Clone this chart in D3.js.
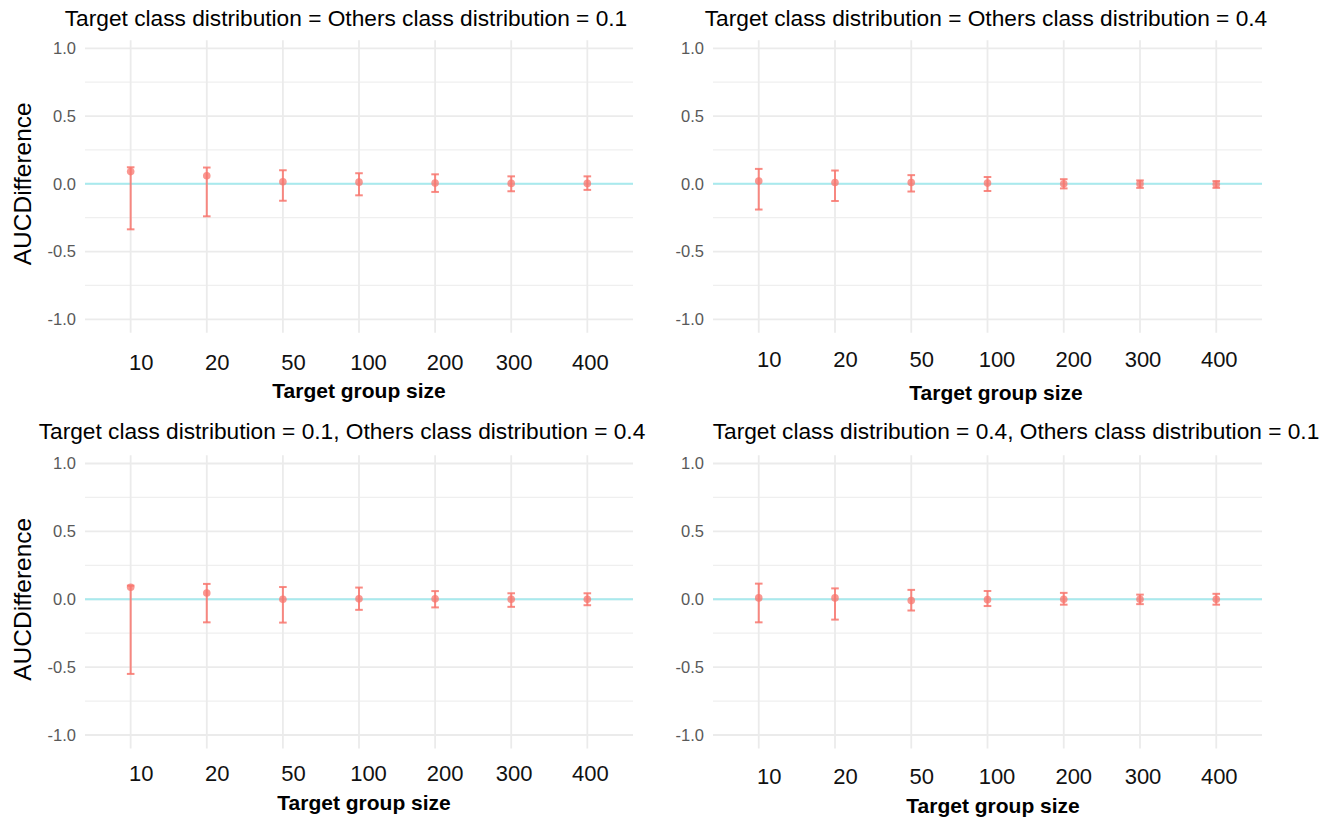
<!DOCTYPE html>
<html>
<head>
<meta charset="utf-8">
<script src="https://cdn.jsdelivr.net/npm/d3@7"></script>
<style>
  body { margin: 0; background: #fff; }
  text { font-family: "Liberation Sans", Arial, Helvetica, sans-serif; }
</style>
</head>
<body>
<div id="chart"></div>
<script>
// categories on the x axis
var sizes = ['10', '20', '50', '100', '200', '300', '400'];
var yTicks = [-1, -0.5, 0, 0.5, 1];
var yMinor = [-0.75, -0.25, 0.25, 0.75];

// panel titles
var titles = [
	'Target class distribution = Others class distribution = 0.1',
	'Target class distribution = Others class distribution = 0.4',
	'Target class distribution = 0.1, Others class distribution = 0.4',
	'Target class distribution = 0.4, Others class distribution = 0.1'
];

// mean AUC difference and error bar ends, one array per panel
var mean_tl = [0.09, 0.059, 0.015, 0.012, 0.005, 0.003, 0.003];
var low_tl = [-0.336, -0.24, -0.125, -0.085, -0.06, -0.055, -0.045];
var high_tl = [0.122, 0.12, 0.10, 0.078, 0.07, 0.055, 0.055];

var mean_tr = [0.02, 0.01, 0.01, 0.005, 0.0, 0.0, -0.003];
var low_tr = [-0.19, -0.127, -0.057, -0.053, -0.034, -0.03, -0.03];
var high_tr = [0.11, 0.098, 0.064, 0.05, 0.034, 0.025, 0.02];

var mean_bl = [0.088, 0.046, 0.0, 0.003, 0.003, 0.0, 0.0];
var low_bl = [-0.55, -0.17, -0.172, -0.078, -0.06, -0.056, -0.044];
var high_bl = [0.1, 0.113, 0.09, 0.086, 0.06, 0.044, 0.044];

var mean_br = [0.01, 0.01, -0.01, -0.003, 0.0, 0.0, 0.0];
var low_br = [-0.17, -0.15, -0.083, -0.05, -0.04, -0.036, -0.04];
var high_br = [0.115, 0.08, 0.069, 0.061, 0.047, 0.034, 0.04];

var series = [
	{ mean: mean_tl, low: low_tl, high: high_tl },
	{ mean: mean_tr, low: low_tr, high: high_tr },
	{ mean: mean_bl, low: low_bl, high: high_bl },
	{ mean: mean_br, low: low_br, high: high_br }
];

// layout of each panel (pasted plots, so each one sits a little differently)
var panels = [
	{ x0: 85, x1: 633, yTop: 48.3, yBot: 319.3, titleX: 346, titleY: 18, tickY: 362, xTitleX: 359, xTitleY: 390, yLab: 76, yTitle: true },
	{ x0: 713, x1: 1262, yTop: 48.3, yBot: 319.3, titleX: 986, titleY: 18, tickY: 359, xTitleX: 996, xTitleY: 392, yLab: 704, yTitle: false },
	{ x0: 85, x1: 633, yTop: 463.5, yBot: 735, titleX: 342, titleY: 431, tickY: 773, xTitleX: 364, xTitleY: 802, yLab: 76, yTitle: true },
	{ x0: 713, x1: 1262, yTop: 463.5, yBot: 735, titleX: 1016, titleY: 431, tickY: 776, xTitleX: 993, xTitleY: 805, yLab: 704, yTitle: false }
];
var labelNudge = [10.5, 10.5, 10.5, 9.5, 10, 3, 3];

var red = '#F8766D';

var svg = d3.select('#chart')
	.append('svg')
	.attr('width', 1332)
	.attr('height', 819);

panels.forEach(function (p, i) {
	var d = series[i];
	var g = svg.append('g');

	var x_scale = d3.scalePoint()
		.domain(sizes)
		.range([p.x0, p.x1])
		.padding(0.6);
	var y_scale = d3.scaleLinear()
		.domain([-1, 1])
		.range([p.yBot, p.yTop]);

	// minor + major horizontal grid
	g.selectAll('.minor')
		.data(yMinor)
		.enter()
		.append('line')
		.attr('x1', p.x0).attr('x2', p.x1)
		.attr('y1', function (v) { return y_scale(v); })
		.attr('y2', function (v) { return y_scale(v); })
		.attr('stroke', '#efefef')
		.attr('stroke-width', 1.2);
	g.selectAll('.major')
		.data(yTicks)
		.enter()
		.append('line')
		.attr('x1', p.x0).attr('x2', p.x1)
		.attr('y1', function (v) { return y_scale(v); })
		.attr('y2', function (v) { return y_scale(v); })
		.attr('stroke', '#ebebeb')
		.attr('stroke-width', 1.8);
	// vertical grid
	g.selectAll('.vgrid')
		.data(sizes)
		.enter()
		.append('line')
		.attr('x1', function (s) { return x_scale(s); })
		.attr('x2', function (s) { return x_scale(s); })
		.attr('y1', y_scale(1.06))
		.attr('y2', y_scale(-1.1))
		.attr('stroke', '#ebebeb')
		.attr('stroke-width', 1.8);

	// zero reference line
	g.append('line')
		.attr('x1', p.x0).attr('x2', p.x1)
		.attr('y1', y_scale(0)).attr('y2', y_scale(0))
		.attr('stroke', '#a8eaee')
		.attr('stroke-width', 2);

	// y tick labels
	g.selectAll('.ylab')
		.data(yTicks)
		.enter()
		.append('text')
		.attr('x', p.yLab)
		.attr('y', function (v) { return y_scale(v); })
		.attr('dy', '0.36em')
		.attr('text-anchor', 'end')
		.attr('font-size', 16.5)
		.attr('fill', '#595959')
		.text(function (v) { return v.toFixed(1); });

	// x tick labels
	g.selectAll('.xlab')
		.data(sizes)
		.enter()
		.append('text')
		.attr('x', function (s, j) { return x_scale(s) + labelNudge[j]; })
		.attr('y', p.tickY)
		.attr('dy', '0.36em')
		.attr('text-anchor', 'middle')
		.attr('font-size', 22)
		.attr('fill', '#111')
		.text(function (s) { return s; });

	// error bars
	var bars = g.selectAll('.bar')
		.data(sizes)
		.enter()
		.append('g')
		.attr('stroke', red)
		.attr('stroke-opacity', 0.85)
		.attr('stroke-width', 2);
	bars.append('line')
		.attr('x1', function (s) { return x_scale(s); })
		.attr('x2', function (s) { return x_scale(s); })
		.attr('y1', function (s, j) { return y_scale(d.low[j]); })
		.attr('y2', function (s, j) { return y_scale(d.high[j]); });
	bars.append('line')
		.attr('x1', function (s) { return x_scale(s) - 3.8; })
		.attr('x2', function (s) { return x_scale(s) + 3.8; })
		.attr('y1', function (s, j) { return y_scale(d.low[j]); })
		.attr('y2', function (s, j) { return y_scale(d.low[j]); });
	bars.append('line')
		.attr('x1', function (s) { return x_scale(s) - 3.8; })
		.attr('x2', function (s) { return x_scale(s) + 3.8; })
		.attr('y1', function (s, j) { return y_scale(d.high[j]); })
		.attr('y2', function (s, j) { return y_scale(d.high[j]); });

	// mean points
	g.selectAll('.pt')
		.data(sizes)
		.enter()
		.append('circle')
		.attr('cx', function (s) { return x_scale(s); })
		.attr('cy', function (s, j) { return y_scale(d.mean[j]); })
		.attr('r', 3.8)
		.attr('fill', red)
		.attr('fill-opacity', 0.75);

	// titles
	g.append('text')
		.attr('x', p.titleX)
		.attr('y', p.titleY)
		.attr('dy', '0.36em')
		.attr('text-anchor', 'middle')
		.attr('font-size', 22.7)
		.attr('fill', '#000')
		.text(titles[i]);
	g.append('text')
		.attr('x', p.xTitleX)
		.attr('y', p.xTitleY)
		.attr('dy', '0.36em')
		.attr('text-anchor', 'middle')
		.attr('font-size', 21)
		.attr('font-weight', 'bold')
		.attr('fill', '#000')
		.text('Target group size');
	if (p.yTitle) {
		g.append('text')
			.attr('transform', 'translate(22,' + (p.yTop + p.yBot) / 2 + ') rotate(-90)')
			.attr('dy', '0.36em')
			.attr('text-anchor', 'middle')
			.attr('font-size', 24.5)
			.attr('fill', '#000')
			.text('AUCDifference');
	}
});
</script>
</body>
</html>
